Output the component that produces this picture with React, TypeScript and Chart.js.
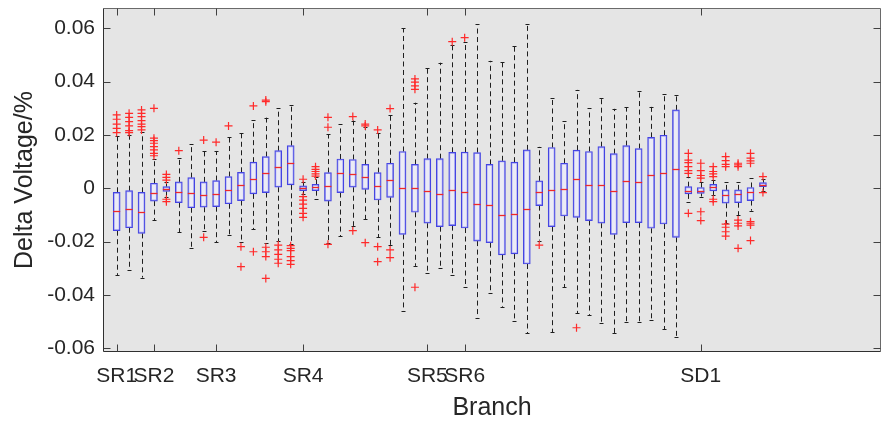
import React, { useEffect, useRef } from "react";
import { Chart, registerables } from "chart.js";

Chart.register(...registerables);

// ---- Data (Delta Voltage, fraction) ----
const whiskerLow = [
  -0.0325, -0.0306, -0.0335, -0.0119, -0.0031, -0.0165, -0.0223, -0.016, -0.0203, -0.0175,
  -0.02, -0.0154, -0.0206, -0.0199, -0.021, -0.0022, -0.0041, -0.0204, -0.0179, -0.0141,
  -0.0116, -0.0184, -0.0213, -0.046, -0.0291, -0.0319, -0.0298, -0.0325, -0.0371, -0.0485,
  -0.0394, -0.0444, -0.0498, -0.0544, -0.0196, -0.0539, -0.0371, -0.0469, -0.0475, -0.0504,
  -0.0544, -0.05, -0.05, -0.0494, -0.0528, -0.0556, -0.005, -0.0031, -0.0025, -0.0131,
  -0.01, -0.0084, -0.0009,
];
const quartile1 = [
  -0.0159, -0.0148, -0.0169, -0.0048, -0.0012, -0.0054, -0.0073, -0.0071, -0.0069, -0.0058,
  -0.0046, -0.0021, -0.0016, 0.0004, 0.0013, -0.0009, -0.0009, -0.0048, -0.0016, 0.0004,
  -0.0004, -0.0044, -0.0034, -0.0173, -0.009, -0.0131, -0.0144, -0.014, -0.0149, -0.0198,
  -0.0204, -0.025, -0.0246, -0.0284, -0.0065, -0.0144, -0.0104, -0.0109, -0.0121, -0.0131,
  -0.0173, -0.0129, -0.0129, -0.015, -0.0134, -0.0184, -0.0021, -0.0019, -0.001, -0.0056,
  -0.0054, -0.0046, 0.0006,
];
const medians = [
  -0.0086, -0.0079, -0.0089, -0.0016, -0.0003, -0.0015, -0.0019, -0.0025, -0.002, -0.0008,
  0.0014, 0.0036, 0.0058, 0.0079, 0.0094, 0, 0.0004, 0.0009, 0.0059, 0.0053,
  0.0041, 0.001, 0.0031, 0, 0, -0.001, -0.0021, -0.0008, -0.0015, -0.0059,
  -0.0063, -0.01, -0.0098, -0.0078, -0.0015, -0.0006, -0.0004, 0.0034, 0.0013, 0.0013,
  -0.001, 0.0029, 0.0024, 0.0048, 0.0059, 0.0073, -0.0009, -0.0009, 0.0003, -0.0025,
  -0.0023, -0.0015, 0.0014,
];
const quartile3 = [
  -0.0015, -0.0009, -0.0015, 0.0019, 0.0006, 0.0024, 0.004, 0.0024, 0.0029, 0.0044,
  0.006, 0.0098, 0.0119, 0.0141, 0.016, 0.0009, 0.0015, 0.0059, 0.011, 0.0108,
  0.009, 0.0059, 0.0094, 0.0138, 0.009, 0.0111, 0.0111, 0.0135, 0.0136, 0.0134,
  0.009, 0.0103, 0.0098, 0.0144, 0.0028, 0.0153, 0.0094, 0.0143, 0.0138, 0.0156,
  0.013, 0.016, 0.0149, 0.0191, 0.0199, 0.0294, 0.0006, 0.0003, 0.0015, -0.0006,
  -0.0006, 0.0003, 0.0021,
];
const whiskerHigh = [
  0.0196, 0.02, 0.021, 0.0109, 0.0025, 0.0115, 0.0166, 0.014, 0.014, 0.0191,
  0.0209, 0.0256, 0.0265, 0.03, 0.0311, 0.0025, 0.0041, 0.0203, 0.0241, 0.0254,
  0.0229, 0.0206, 0.0274, 0.06, 0.0321, 0.045, 0.0471, 0.0538, 0.055, 0.0615,
  0.0478, 0.0474, 0.0535, 0.0615, 0.0156, 0.0338, 0.0253, 0.0369, 0.03, 0.0338,
  0.0298, 0.0303, 0.0363, 0.0306, 0.0353, 0.035, 0.0044, 0.0025, 0.0031, 0.0025,
  0.0025, 0.0038, 0.0035,
];
const outliers: number[][] = [
  [0.0275, 0.0259, 0.0241, 0.0225, 0.0209],
  [0.0281, 0.0266, 0.025, 0.0234, 0.0216, 0.0209],
  [0.0294, 0.0281, 0.0269, 0.0254, 0.0241, 0.0231, 0.0219],
  [0.03, 0.0188, 0.0179, 0.0169, 0.0156, 0.0144, 0.0131, 0.0122],
  [0.0052, 0.0041, 0.0031, -0.0041, -0.005],
  [0.0141],
  [],
  [0.0181, -0.0184],
  [0.0173],
  [0.0234],
  [-0.0219, -0.0294],
  [0.0309, -0.0238],
  [0.0331, 0.0325, -0.0221, -0.0238, -0.0256, -0.0338],
  [-0.0213, -0.0231, -0.0248, -0.0266, -0.0281],
  [-0.0215, -0.0225, -0.0234, -0.0256, -0.0271, -0.0285],
  [0.0034, -0.0031, -0.0044, -0.0059, -0.0075, -0.0094, -0.0109],
  [0.0081, 0.0071, 0.0063, 0.0054, 0.0046],
  [0.0266, 0.0229, -0.021],
  [],
  [0.0269, -0.0159],
  [0.0241, 0.0234, -0.0204],
  [0.0219, -0.0219, -0.0275],
  [0.0299, -0.0231, -0.026],
  [],
  [0.041, 0.0398, 0.0384, 0.0371, -0.0371],
  [],
  [],
  [0.055],
  [0.0565],
  [],
  [],
  [],
  [],
  [],
  [-0.0213],
  [],
  [],
  [-0.0523],
  [],
  [],
  [],
  [],
  [],
  [],
  [],
  [],
  [0.0131, 0.0106, 0.0096, 0.0081, 0.0066, 0.0056, -0.0094],
  [0.0094, 0.0066, 0.0048, 0.0038, -0.0088, -0.0121],
  [0.0081, 0.0063, 0.0054, 0.0044, -0.0041, -0.005],
  [0.0119, 0.0104, 0.009, 0.0081, -0.0134, -0.0146, -0.0163, -0.0179],
  [0.0094, 0.0088, 0.0081, -0.0119, -0.0131, -0.0141, -0.0225],
  [0.0131, 0.0113, 0.0103, 0.0094, -0.0125, -0.0131, -0.0138, -0.0196],
  [0.0044, -0.0016],
];
const boxPositions = whiskerLow.map((_, i) => i + 1);

const xTickPositions = [1, 4, 9, 16, 26, 29, 48];
const xTickLabels = ["SR1", "SR2", "SR3", "SR4", "SR5", "SR6", "SD1"];
const yTickValues = [-0.06, -0.04, -0.02, 0, 0.02, 0.04, 0.06];
const yTickLabels = ["-0.06", "-0.04", "-0.02", "0", "0.02", "0.04", "0.06"];

const FONT = "'Liberation Sans', Arial, Helvetica, sans-serif";
const TEXT = "#262626";

const decorPlugin = {
  id: "boxDecor",
  beforeDraw(chart: any) {
    const { ctx, chartArea: a } = chart;
    ctx.save();
    ctx.fillStyle = "#e5e5e5";
    ctx.fillRect(a.left, a.top, a.right - a.left, a.bottom - a.top);
    ctx.restore();
  },
  beforeDatasetsDraw(chart: any) {
    const { ctx } = chart;
    const x = chart.scales.x;
    const y = chart.scales.y;
    ctx.save();
    ctx.strokeStyle = "#1e1e1e";
    ctx.lineWidth = 1;
    boxPositions.forEach((p, i) => {
      const px = Math.round(x.getPixelForValue(p)) + 0.5;
      ctx.setLineDash([5, 3.5]);
      ctx.beginPath();
      ctx.moveTo(px, y.getPixelForValue(quartile3[i]));
      ctx.lineTo(px, y.getPixelForValue(whiskerHigh[i]));
      ctx.moveTo(px, y.getPixelForValue(quartile1[i]));
      ctx.lineTo(px, y.getPixelForValue(whiskerLow[i]));
      ctx.stroke();
      ctx.setLineDash([]);
      const yh = Math.round(y.getPixelForValue(whiskerHigh[i])) + 0.5;
      const yl = Math.round(y.getPixelForValue(whiskerLow[i])) + 0.5;
      ctx.beginPath();
      ctx.moveTo(px - 2, yh);
      ctx.lineTo(px + 2, yh);
      ctx.moveTo(px - 2, yl);
      ctx.lineTo(px + 2, yl);
      ctx.stroke();
    });
    ctx.restore();
  },
  afterDatasetsDraw(chart: any) {
    const { ctx, chartArea: a } = chart;
    const x = chart.scales.x;
    const y = chart.scales.y;
    ctx.save();
    // medians
    ctx.strokeStyle = "#f02828";
    ctx.lineWidth = 1.3;
    boxPositions.forEach((p, i) => {
      const px = x.getPixelForValue(p);
      const py = Math.round(y.getPixelForValue(medians[i])) + 0.5;
      ctx.beginPath();
      ctx.moveTo(px - 3.5, py);
      ctx.lineTo(px + 3.5, py);
      ctx.stroke();
    });
    // frame
    const L = a.left + 0.5, R = a.right - 0.5, T = a.top + 0.5, B = a.bottom - 0.5;
    ctx.lineWidth = 1;
    ctx.strokeStyle = "#6a6a6a";
    ctx.beginPath();
    ctx.moveTo(L, T);
    ctx.lineTo(R, T);
    ctx.lineTo(R, B);
    ctx.stroke();
    ctx.strokeStyle = "#303030";
    ctx.beginPath();
    ctx.moveTo(L, T);
    ctx.lineTo(L, B);
    ctx.lineTo(R, B);
    ctx.stroke();
    // inner tick marks
    ctx.strokeStyle = "#404040";
    ctx.beginPath();
    yTickValues.forEach((v) => {
      const py = Math.round(y.getPixelForValue(v)) + 0.5;
      ctx.moveTo(L, py);
      ctx.lineTo(L + 7, py);
      ctx.moveTo(R, py);
      ctx.lineTo(R - 7, py);
    });
    xTickPositions.forEach((v) => {
      const px = Math.round(x.getPixelForValue(v)) + 0.5;
      ctx.moveTo(px, B);
      ctx.lineTo(px, B - 7);
      ctx.moveTo(px, T);
      ctx.lineTo(px, T + 7);
    });
    ctx.stroke();
    ctx.restore();
  },
};

const zeroPadding = (axis: any) => {
  axis.paddingTop = 0;
  axis.paddingBottom = 0;
  axis.paddingLeft = 0;
  axis.paddingRight = 0;
};

export default function App() {
  const ref = useRef<HTMLCanvasElement>(null);
  useEffect(() => {
    const boxData = boxPositions.map((p, i) => ({ x: p, y: [quartile1[i], quartile3[i]] }));
    const outlierPoints = outliers.flatMap((list, i) =>
      list.map((v) => ({ x: boxPositions[i], y: v }))
    );
    const chart = new Chart(ref.current as HTMLCanvasElement, {
      type: "bar",
      data: {
        datasets: [
          {
            type: "scatter",
            order: 1,
            data: outlierPoints,
            pointStyle: "cross",
            pointRadius: 4,
            pointBorderColor: "#ff2a2a",
            pointBorderWidth: 1.2,
            pointBackgroundColor: "#ff2a2a",
            showLine: false,
          } as any,
          {
            type: "bar",
            order: 2,
            data: boxData as any,
            backgroundColor: "rgba(238,238,255,0.6)",
            borderColor: "#4444e2",
            borderWidth: 1.2,
            borderSkipped: false,
            barThickness: 7,
          } as any,
        ],
      },
      options: {
        animation: false,
        responsive: false,
        events: [],
        devicePixelRatio: 1,
        layout: { autoPadding: false, padding: { top: 8, right: 1, left: 0, bottom: 0 } },
        plugins: { legend: { display: false }, tooltip: { enabled: false } },
        scales: {
          x: {
            type: "linear",
            min: -0.1,
            max: 62.5,
            offset: false,
            grid: { display: false, drawTicks: false },
            border: { display: false },
            afterBuildTicks: (axis: any) => {
              axis.ticks = xTickPositions.map((v) => ({ value: v }));
            },
            afterFit: (axis: any) => {
              axis.height = 71;
              zeroPadding(axis);
            },
            ticks: {
              autoSkip: false,
              maxRotation: 0,
              minRotation: 0,
              padding: 12,
              color: TEXT,
              font: { family: FONT, size: 21 },
              callback: (value: any) => {
                const k = xTickPositions.indexOf(Number(value));
                return k >= 0 ? xTickLabels[k] : "";
              },
            },
            title: {
              display: true,
              text: "Branch",
              color: TEXT,
              font: { family: FONT, size: 25 },
              padding: { top: 0, bottom: 0 },
            },
          } as any,
          y: {
            type: "linear",
            min: -0.06139,
            max: 0.06761,
            bounds: "data",
            grid: { display: false, drawTicks: false },
            border: { display: false },
            afterBuildTicks: (axis: any) => {
              axis.ticks = yTickValues.map((v) => ({ value: v }));
            },
            afterFit: (axis: any) => {
              axis.width = 103;
              zeroPadding(axis);
            },
            ticks: {
              autoSkip: false,
              padding: 8,
              color: TEXT,
              font: { family: FONT, size: 21 },
              callback: (value: any) => {
                const k = yTickValues.findIndex((t) => Math.abs(t - Number(value)) < 1e-9);
                return k >= 0 ? yTickLabels[k] : "";
              },
            },
            title: {
              display: true,
              text: "Delta Voltage/%",
              color: TEXT,
              font: { family: FONT, size: 25 },
              padding: { top: 10, bottom: 0 },
            },
          } as any,
        },
      },
      plugins: [decorPlugin],
    });
    return () => chart.destroy();
  }, []);
  return (
    <div style={{ position: "fixed", left: 0, top: 0, width: 882, height: 423, background: "#ffffff" }}>
      <canvas ref={ref} width={882} height={423} style={{ display: "block", width: 882, height: 423 }} />
    </div>
  );
}
